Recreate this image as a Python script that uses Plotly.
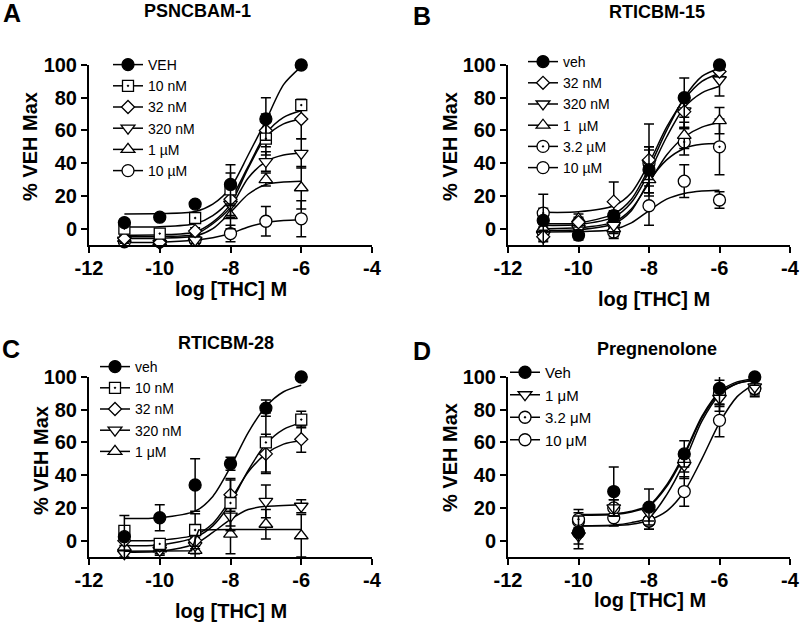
import plotly.graph_objects as go

FONT = "Liberation Sans, Arial, Helvetica, sans-serif"

# ---- panel A: PSNCBAM-1 ----
A_DOSE = [-11, -10, -9, -8, -7, -6]
A_LABELS = ["VEH", "10 nM", "32 nM", "320 nM", "1 µM", "10 µM"]
A_MEAN = [
    [3.7, 7, 15, 27, 67, 100],
    [0, -3, 6.5, 24, 55, 75.5],
    [-6, -8.5, -1.5, 18, 60, 67],
    [-7, -9, -7, 15, 41, 46],
    [-6, -8, -5, 8, 30, 25],
    [-8, -8, -7, -3, 4.5, 6],
]
A_SEM = [
    [1, 1, 1, 12, 13, 1],
    [2, 2, 3, 10, 10, 2],
    [2, 2, 2, 10, 10, 12],
    [2, 2, 2, 8, 6, 9],
    [2, 2, 2, 8, 4, 13],
    [2, 2, 2, 5, 9, 11],
]
A_FIT_X = [-11, -10, -9, -8.5, -8, -7.5, -7, -6.5, -6]
A_FIT_Y = [
    [9, 9.2, 10.5, 15, 25, 45, 66, 88, 99],
    [1, 1.2, 3, 8, 18, 38, 58, 68, 72],
    [-4, -3.8, -2, 4, 15, 37, 56, 64, 67],
    [-5, -4.8, -3.5, 3, 13, 31, 41, 45, 46],
    [-6, -5.8, -4.5, 0, 10, 21, 27, 28.5, 29],
    [-8.5, -8.3, -7, -5.5, -3, 1, 3.8, 5, 5.5],
]

# ---- panel B: RTICBM-15 ----
B_DOSE = [-11, -10, -9, -8, -7, -6]
B_LABELS = ["veh", "32 nM", "320 nM", "1  µM", "3.2 µM", "10 µM"]
B_MEAN = [
    [5, -4, 8, 36, 80, 100],
    [-5, 4, 16.5, 42, 71.5, 96],
    [-4, 0, 2, 40, 72, 91],
    [0, 6, 0, 30, 57, 66],
    [9.5, 3, 3, 40, 53, 50],
    [-2, 2, -2, 14, 29, 17.5],
]
B_SEM = [
    [16, 3, 3, 14, 12, 3],
    [3, 3, 12, 22, 10, 3],
    [3, 3, 5, 10, 10, 10],
    [3, 3, 6, 8, 8, 8],
    [3, 3, 5, 8, 8, 17],
    [3, 3, 3, 12, 10, 5],
]
B_FIT_X = [-11, -10, -9, -8.5, -8, -7.5, -7, -6.5, -6]
B_FIT_Y = [
    [3, 3.5, 9, 18, 37, 60, 80, 93, 98],
    [10, 10.3, 14, 22, 40, 62, 79, 90, 95],
    [2, 2.5, 7, 16, 34, 56, 74, 83, 87],
    [0, 0.5, 4, 12, 28, 45, 56, 62, 65],
    [-1, -0.7, 3, 11, 29, 42, 49, 51.5, 52],
    [-2, -1.8, -0.5, 3.5, 11, 18, 21.5, 23, 23.5],
]

# ---- panel C: RTICBM-28 ----
C_DOSE = [-11, -10, -9, -8, -7, -6]
C_LABELS = ["veh", "10 nM", "32 nM", "320 nM", "1 μM"]
C_MEAN = [
    [2.4, 14, 34, 47, 81, 100],
    [6, -2, 6.5, 23, 60, 74],
    [0, -3, 0, 28, 53, 62],
    [-8, -6, -3, 15, 24, 21],
    [-4, -5, -6, 4, 10, 3],
]
C_SEM = [
    [13, 8, 16, 4, 5, 1],
    [3, 3, 10, 14, 18, 5],
    [3, 3, 5, 10, 12, 8],
    [2, 3, 5, 9, 10, 4],
    [3, 3, 5, 12, 9, 13],
]
C_FIT_X = [-11, -10, -9, -8.5, -8, -7.5, -7, -6.5, -6]
C_FIT_Y = [
    [13.5, 14, 18, 27, 45, 66, 82, 91, 95],
    [-3, -2.7, 2, 9, 23, 43, 59, 68, 72],
    [0, 0.3, 3.5, 10.5, 25, 42, 53, 59, 61],
    [-7, -6.5, -2, 5, 13, 19, 21, 21.5, 22],
]
C_STEP_X = [-11, -10, -9.1, -9.0, -8.9, -8, -7, -6]
C_STEP_Y = [-6.5, -6.5, -6.2, 0.5, 6.5, 6.8, 6.8, 6.8]

# ---- panel D: Pregnenolone ----
D_DOSE = [-10, -9, -8, -7, -6, -5]
D_LABELS = ["Veh", "1 μM", "3.2 μM", "10 μM"]
D_MEAN = [
    [5, 30, 20.5, 53, 93, 100],
    [3, 20, 17, 46, 87, 94],
    [13, 20, 12, 48, 90, 93],
    [12, 14, 12, 30, 73.5, 93],
]
D_SEM = [
    [10, 15, 11, 8, 10, 5],
    [5, 5, 5, 8, 8, 5],
    [6, 5, 5, 6, 8, 5],
    [5, 5, 5, 9, 10, 3],
]
D_FIT_X = [-10, -9, -8.5, -8, -7.5, -7, -6.5, -6, -5.5, -5]
D_FIT_Y = [
    [16, 16.5, 18, 21.5, 34, 53, 76, 91, 97, 99],
    [9, 9.5, 11, 14, 28, 48, 73, 89, 96, 98],
    [15.5, 16, 17.5, 21, 33, 52, 75, 90, 96, 98],
    [9, 9.2, 10, 12.5, 18, 30, 50, 72, 88, 96],
]

X_TICKS = [-12, -10, -8, -6, -4]
X_TICK_TEXT = ["-12", "-10", "-8", "-6", "-4"]
Y_TICKS = [0, 20, 40, 60, 80, 100]

SYM_A = ["circle", "square-dot", "diamond", "triangle-down", "triangle-up", "circle"]
SYM_B = ["circle", "diamond", "triangle-down", "triangle-up", "circle-dot", "circle"]
SYM_C = ["circle", "square-dot", "diamond", "triangle-down", "triangle-up"]
SYM_D = ["circle", "triangle-down", "circle-dot", "circle"]

SIZES = {"circle": 12, "circle-dot": 12, "square-dot": 11, "diamond": 10,
         "triangle-down": 12, "triangle-up": 12}


def marker(symbol, filled):
    return dict(
        symbol=symbol,
        size=SIZES[symbol],
        color="black" if filled else "white",
        line=dict(color="black", width=1.3),
    )


fig = go.Figure()


def add_panel(n, dose, labels, means, sems, fit_x, fits, symbols, legend_id):
    xa, ya = ("x", "y") if n == 1 else (f"x{n}", f"y{n}")
    for fy in fits:
        fig.add_trace(go.Scatter(
            x=fit_x, y=fy, mode="lines", xaxis=xa, yaxis=ya,
            line=dict(color="black", width=1.5, shape="spline", smoothing=0.8),
            showlegend=False, hoverinfo="skip",
        ))
    for i in reversed(range(len(labels))):
        fig.add_trace(go.Scatter(
            x=dose, y=means[i], mode="markers", xaxis=xa, yaxis=ya,
            marker=marker(symbols[i], i == 0), cliponaxis=False,
            error_y=dict(type="data", array=sems[i], color="black",
                         thickness=1.5, width=5),
            showlegend=False,
        ))
    # legend-only entries (line + marker key like the original)
    for i, lab in enumerate(labels):
        fig.add_trace(go.Scatter(
            x=[None], y=[None], mode="lines+markers", xaxis=xa, yaxis=ya,
            name=lab, legend=legend_id,
            marker=marker(symbols[i], i == 0),
            line=dict(color="black", width=1.5),
        ))


add_panel(1, A_DOSE, A_LABELS, A_MEAN, A_SEM, A_FIT_X, A_FIT_Y, SYM_A, "legend")
add_panel(2, B_DOSE, B_LABELS, B_MEAN, B_SEM, B_FIT_X, B_FIT_Y, SYM_B, "legend2")
add_panel(3, C_DOSE, C_LABELS, C_MEAN, C_SEM, C_FIT_X, C_FIT_Y, SYM_C, "legend3")
fig.add_trace(go.Scatter(
    x=C_STEP_X, y=C_STEP_Y, mode="lines", xaxis="x3", yaxis="y3",
    line=dict(color="black", width=1.5), showlegend=False, hoverinfo="skip",
))
add_panel(4, D_DOSE, D_LABELS, D_MEAN, D_SEM, D_FIT_X, D_FIT_Y, SYM_D, "legend4")

# panel geometry in pixels (left, right, top, bottom) of an 800x624 canvas
W, H = 800, 624
PANELS = {
    1: (89, 372, 65, 245),
    2: (508, 790, 65, 245),
    3: (89, 372, 377, 557),
    4: (508, 790, 377, 557),
}

tick_font = dict(family=FONT, size=20, color="black", weight="bold")
axes = {}
for n, (l, r, t, b) in PANELS.items():
    sx = "" if n == 1 else str(n)
    axes[f"xaxis{sx}"] = dict(
        domain=[l / W, r / W], anchor=f"y{sx}", range=[-12, -4],
        tickvals=X_TICKS, ticktext=X_TICK_TEXT, ticklabelstandoff=-2,
        showline=True, linecolor="black", linewidth=2, ticks="outside",
        ticklen=6, tickwidth=2, tickcolor="black", showgrid=False,
        zeroline=False, tickfont=tick_font,
    )
    axes[f"yaxis{sx}"] = dict(
        domain=[1 - b / H, 1 - t / H], anchor=f"x{sx}", range=[-10, 100],
        tickvals=Y_TICKS,
        showline=True, linecolor="black", linewidth=2, ticks="outside",
        ticklen=6, tickwidth=2, tickcolor="black", showgrid=False,
        zeroline=False, tickfont=tick_font,
    )

legend_style = dict(
    xanchor="left", yanchor="top", bgcolor="rgba(0,0,0,0)", borderwidth=0,
    font=dict(family=FONT, size=14, color="black"),
)
legends = {
    "legend": dict(x=108 / W, y=1 - 49 / H, **legend_style),
    "legend2": dict(x=523 / W, y=1 - 46 / H, **legend_style),
    "legend3": dict(x=95 / W, y=1 - 351 / H, **legend_style),
    "legend4": dict(x=505 / W, y=1 - 356 / H,
                    **{**legend_style, "font": dict(family=FONT, size=15, color="black")}),
}


def note(text, x, y, size, angle=0):
    return dict(
        text=text, x=x / W, y=1 - y / H, xref="paper", yref="paper",
        showarrow=False, xanchor="center", yanchor="middle", textangle=angle,
        font=dict(family=FONT, size=size, color="black", weight="bold"),
    )


annotations = [
    note("A", 12, 13, 25), note("B", 422, 16, 25),
    note("C", 11, 349, 25), note("D", 422, 351, 25),
    note("PSNCBAM-1", 197, 11, 18), note("RTICBM-15", 657, 12, 18),
    note("RTICBM-28", 226, 343, 18), note("Pregnenolone", 657, 349, 18),
    note("log [THC] M", 231, 289, 20), note("log [THC] M", 654, 299, 20),
    note("log [THC] M", 231, 611, 20), note("log [THC] M", 650, 600, 20),
    note("% VEH Max", 30, 147, 20, -90), note("% VEH Max", 450, 147, 20, -90),
    note("% VEH Max", 41, 461, 20, -90), note("% VEH Max", 450, 458, 20, -90),
]

fig.update_layout(
    width=W, height=H,
    margin=dict(l=0, r=0, t=0, b=0, autoexpand=False),
    plot_bgcolor="white", paper_bgcolor="white",
    font=dict(family=FONT, color="black"),
    annotations=annotations,
    **axes, **legends,
)

# the page body has a default 8px margin; drop it so the canvas sits at 0,0
fig.write_html(
    "out.html",
    config={"displayModeBar": False},
    post_script="document.body.style.margin='0';",
)
